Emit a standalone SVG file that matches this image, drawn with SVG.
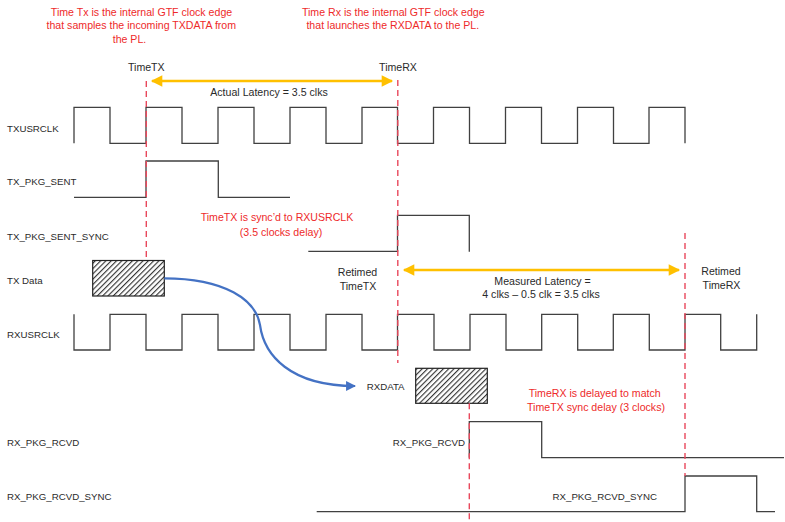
<svg xmlns="http://www.w3.org/2000/svg" width="785" height="522" viewBox="0 0 785 522">
<style>
.lbl{font-family:"Liberation Sans",Arial,sans-serif;font-size:9.7px;fill:#2a2a2a}
.txt{font-family:"Liberation Sans",Arial,sans-serif;font-size:10.6px;fill:#2a2a2a}
.red{font-family:"Liberation Sans",Arial,sans-serif;font-size:10.6px;fill:#EE2A2A}
.mid{text-anchor:middle}
.end{text-anchor:end}
.wave{fill:none;stroke:#404040;stroke-width:1.3}
.dash{fill:none;stroke:#E8485C;stroke-width:1.4;stroke-dasharray:6 4}
.yel{fill:none;stroke:#FFC000;stroke-width:2.6}
.blue{fill:none;stroke:#4472C4;stroke-width:2.2}
.box{fill:url(#hatch);stroke:#222;stroke-width:1.2}
</style>
<defs>
<pattern id="hatch" width="3.75" height="3.75" patternUnits="userSpaceOnUse" patternTransform="rotate(45)">
<rect width="3.75" height="3.75" fill="#fff"/>
<line x1="0.6" y1="0" x2="0.6" y2="3.75" stroke="#222" stroke-width="1.05"/>
</pattern>
<marker id="ya" viewBox="0 0 10 10" refX="9" refY="5" markerWidth="5.2" markerHeight="4.4" orient="auto-start-reverse" markerUnits="strokeWidth">
<path d="M0,0 L10,5 L0,10 z" fill="#FFC000"/>
</marker>
<marker id="ba" viewBox="0 0 10 10" refX="9" refY="5" markerWidth="5" markerHeight="4.5" orient="auto" markerUnits="strokeWidth">
<path d="M0,0 L10,5 L0,10 z" fill="#4472C4"/>
</marker>
</defs>
<rect width="785" height="522" fill="#fff"/>

<g id="note-timetx">
<text class="red mid" x="141.5" y="15.7">Time Tx is the internal GTF clock edge</text>
<text class="red mid" x="141.3" y="29.4">that samples the incoming TXDATA from</text>
<text class="red mid" x="129.5" y="43">the PL.</text>
</g>
<g id="note-timerx">
<text class="red mid" x="393.3" y="15.7">Time Rx is the internal GTF clock edge</text>
<text class="red mid" x="392.8" y="29.4">that launches the RXDATA to the PL.</text>
</g>
<g id="label-timetx"><text class="txt mid" x="146.3" y="70.5">TimeTX</text></g>
<g id="label-timerx"><text class="txt mid" x="398" y="70.5">TimeRX</text></g>

<g id="txusrclk">
<text class="lbl" x="7" y="131.7">TXUSRCLK</text>
<path class="wave" d="M74,143.3 V107.3 H110 V143.3 H146 V107.3 H182 V143.3 H218 V107.3 H254 V143.3 H290 V107.3 H326 V143.3 H362 V107.3 H397.5 V143.3 H433.5 V107.3 H469.5 V143.3 H505.5 V107.3 H541.5 V143.3 H577.5 V107.3 H613.5 V143.3 H649 V107.3 H685 V143.3"/>
</g>
<g id="tx_pkg_sent">
<text class="lbl" x="7" y="185">TX_PKG_SENT</text>
<path class="wave" d="M74,197.3 H146 V161 H218.3 V197.3 H290"/>
</g>
<g id="tx_pkg_sent_sync">
<text class="lbl" x="7" y="239.5">TX_PKG_SENT_SYNC</text>
<path class="wave" d="M308.3,251.3 H397.5 V215.3 H469.3 V251.7"/>
</g>
<g id="note-sync">
<text class="red mid" x="277" y="221.4">TimeTX is sync’d to RXUSRCLK</text>
<text class="red mid" x="281" y="236.4">(3.5 clocks delay)</text>
</g>
<g id="tx_data">
<text class="lbl" x="7" y="284">TX Data</text>
<rect class="box" x="92.7" y="260.5" width="71.6" height="35.5"/>
</g>
<g id="retimed-timetx">
<text class="txt mid" x="357.5" y="276.4">Retimed</text>
<text class="txt mid" x="358" y="289.8">TimeTX</text>
</g>
<g id="retimed-timerx">
<text class="txt mid" x="721" y="275.4">Retimed</text>
<text class="txt mid" x="721.5" y="289.4">TimeRX</text>
</g>
<g id="measured-latency">
<text class="txt mid" x="542.5" y="284.5">Measured Latency =</text>
<text class="txt mid" x="541" y="298">4 clks – 0.5 clk = 3.5 clks</text>
</g>
<g id="actual-latency"><text class="txt mid" x="269" y="96.4">Actual Latency = 3.5 clks</text></g>
<g id="rxusrclk">
<text class="lbl" x="7" y="337.5">RXUSRCLK</text>
<path class="wave" d="M74,314.3 V350 H110 V314.3 H146 V350 H182 V314.3 H218 V350 H254 V314.3 H290 V350 H326 V314.3 H362 V350 H397.5 V314.3 H434 V350 H470 V314.3 H506 V350 H541.7 V314.3 H577.7 V350 H613.3 V314.3 H649.3 V350 H685 V314.3 H720.7 V350 H756.7 V314.3"/>
</g>
<g id="rxdata">
<text class="lbl" x="366.7" y="389.5">RXDATA</text>
<rect class="box" x="415.7" y="368.3" width="71.6" height="35"/>
</g>
<g id="note-delay">
<text class="red mid" x="594.7" y="397">TimeRX is delayed to match</text>
<text class="red mid" x="596" y="411">TimeTX sync delay (3 clocks)</text>
</g>
<g id="rx_pkg_rcvd">
<text class="lbl" x="7" y="445.8">RX_PKG_RCVD</text>
<text class="lbl end" x="465" y="445.8">RX_PKG_RCVD</text>
<path class="wave" d="M469.3,457.7 V421.7 H541.7 V457.7 H784"/>
</g>
<g id="rx_pkg_rcvd_sync">
<text class="lbl" x="7" y="499.5">RX_PKG_RCVD_SYNC</text>
<text class="lbl end" x="657" y="499.5">RX_PKG_RCVD_SYNC</text>
<path class="wave" d="M316.7,511.7 H685 V476 H756.7 V511.7 H775"/>
</g>

<g id="connectors">
<path class="dash" d="M146.3,81 V260.5"/>
<path class="dash" d="M397.8,80 V363"/>
<path class="dash" d="M469.3,403.3 V520"/>
<path class="dash" d="M685,233 V476"/>
<path class="yel" d="M152,81 H392" marker-start="url(#ya)" marker-end="url(#ya)"/>
<path class="yel" d="M404,270 H679" marker-start="url(#ya)" marker-end="url(#ya)"/>
<path class="blue" d="M164.3,278.3 C225,278.3 256,300 260,325 C264,355 290,386 355,386" marker-end="url(#ba)"/>
</g>
</svg>
